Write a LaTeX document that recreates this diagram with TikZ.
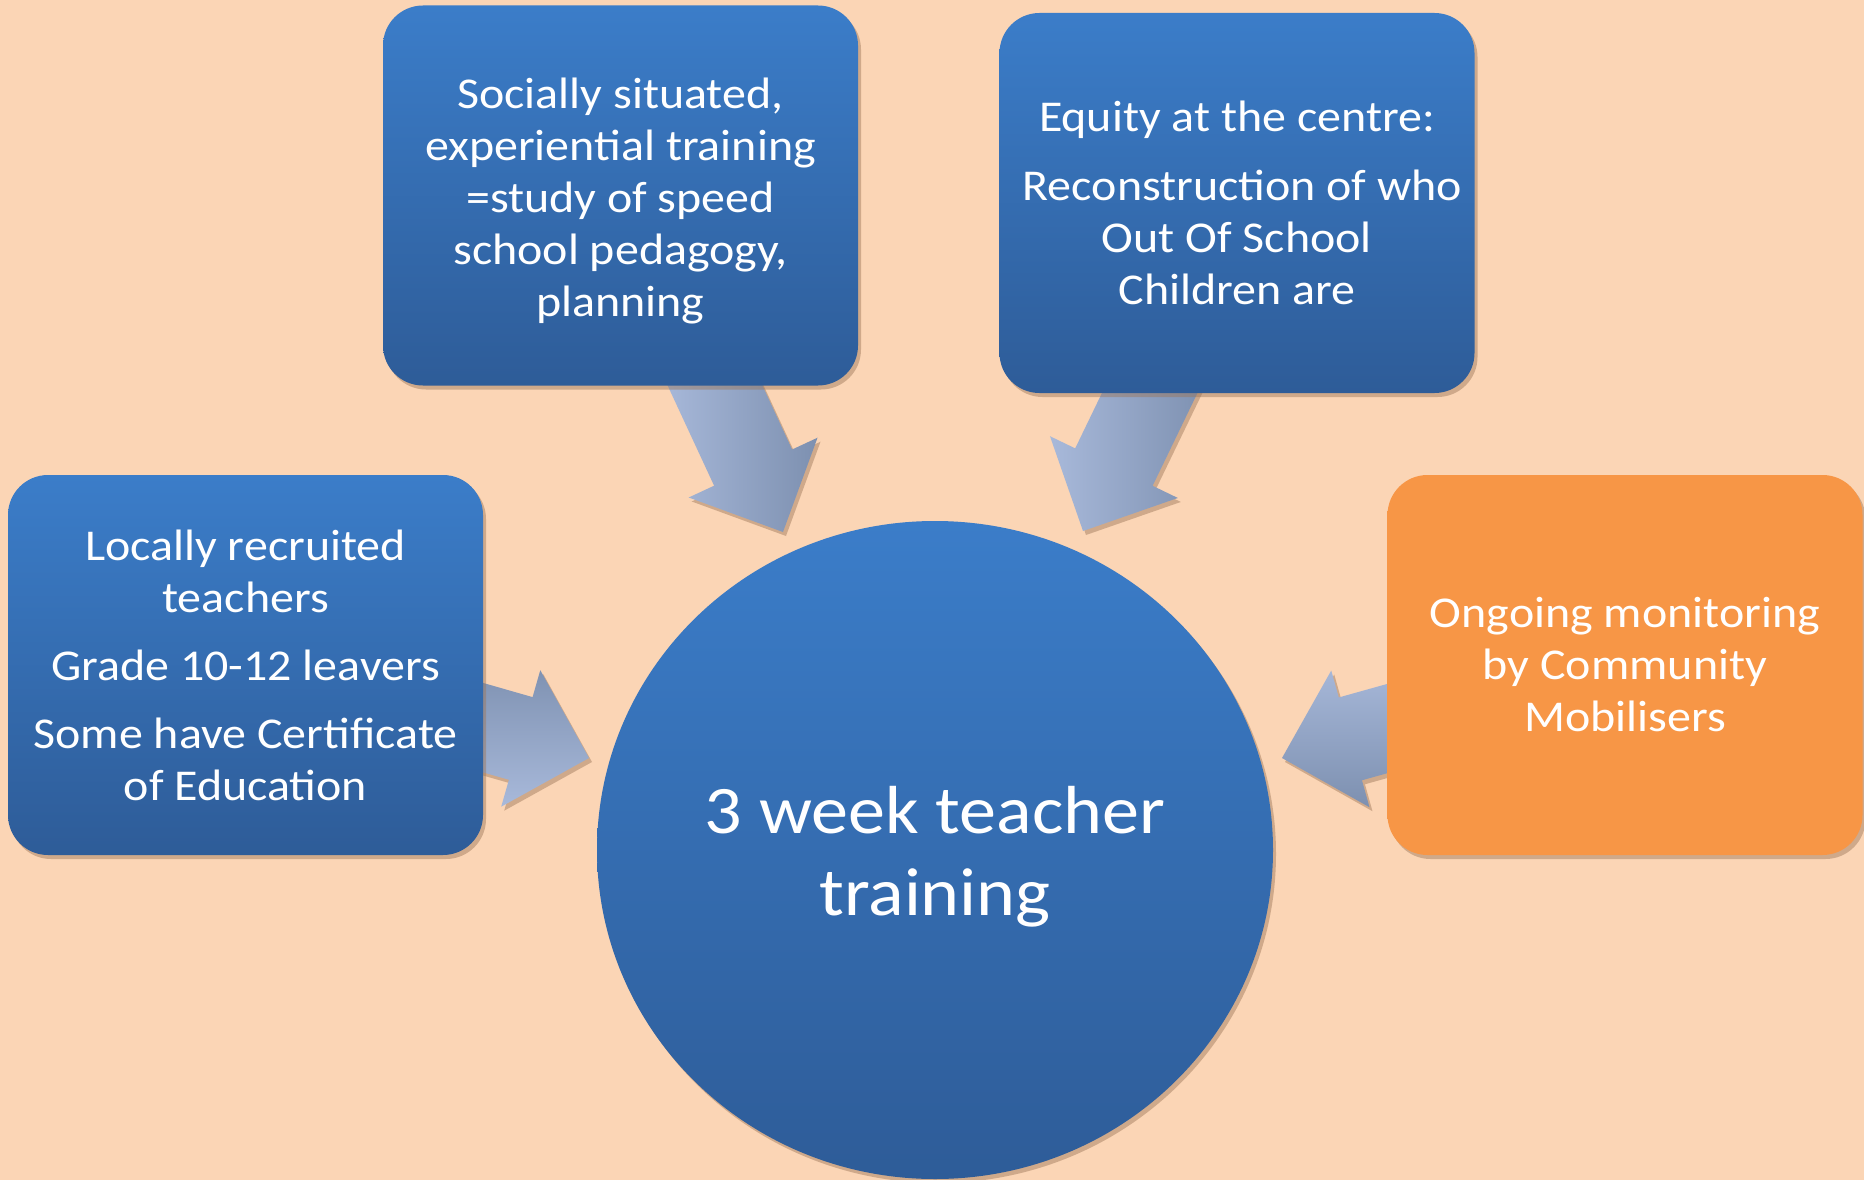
\documentclass[tikz,border=0pt]{standalone}
\usepackage{fontspec}
\setmainfont{Carlito}[FakeStretch=1.09]
\usetikzlibrary{shapes.geometric,shadows,calc}
\definecolor{bg}{HTML}{FBD5B5}
\definecolor{btop}{HTML}{3B7DC9}
\definecolor{bbot}{HTML}{2E5C98}
\definecolor{orng}{HTML}{F79646}
\definecolor{alight}{HTML}{A8B9DA}
\definecolor{adark}{HTML}{7D90B0}
\definecolor{shd}{HTML}{9A7457}
\tikzset{
  softshadow/.style={drop shadow={shadow xshift=3pt, shadow yshift=-4pt, fill=shd, opacity=0.45}},
  bluebox/.style={rectangle, rounded corners=40pt, minimum width=475pt, minimum height=380pt,
    inner sep=0pt, top color=btop, bottom color=bbot, draw=none, text=white, align=center,
    font=\fontsize{44}{52}\selectfont, softshadow},
  orangebox/.style={bluebox, top color=orng, bottom color=orng},
  hub/.style={ellipse, minimum width=676pt, minimum height=658pt, inner sep=0pt,
    top color=btop, bottom color=bbot, draw=none, softshadow},
  hubtext/.style={text=white, align=center, inner sep=0pt, font=\fontsize{68}{82}\selectfont},
  blockarrow/.style={draw=none, softshadow}
}
\newcommand\blockarr[3]{%
  \coordinate (#2-h) at ($(#2)!71pt!(#1)$);
  \path[blockarrow,#3] ($(#1)!43pt!90:(#2)$) -- ($(#2-h)!43pt!90:(#2)$) -- ($(#2-h)!71pt!90:(#2)$)
    -- (#2) -- ($(#2-h)!71pt!-90:(#2)$) -- ($(#2-h)!43pt!-90:(#2)$) -- ($(#1)!43pt!-90:(#2)$) -- cycle;
}
\begin{document}
\begin{tikzpicture}[x=1pt,y=-1pt]
\useasboundingbox (0,0) rectangle (1864,1180);
\fill[bg] (0,0) rectangle (1864,1180);

% arrow tails (hidden under boxes) and tips
\coordinate (t1) at (699,351);  \coordinate (p1) at (783,532);
\coordinate (t2) at (1170,351); \coordinate (p2) at (1083,531);
\coordinate (t3) at (397,703);  \coordinate (p3) at (589,758);
\coordinate (t4) at (1475,704); \coordinate (p4) at (1282,758);

\blockarr{t1}{p1}{left color=alight, right color=adark}
\blockarr{t2}{p2}{left color=alight, right color=adark}
\blockarr{t3}{p3}{top color=adark, bottom color=alight}
\blockarr{t4}{p4}{top color=alight, bottom color=adark}

\node[hub] (center) at (935,850) {};
\node[hubtext] (centertext) at ($(center)+(0,7)$) {3 week teacher\\training};

\node[bluebox] (left) at (245.5,665) {Locally recruited\\teachers\\[16pt]Grade 10-12 leavers\\[16pt]Some have Certificate\\of Education};
\node[bluebox] (topleft) at (620.5,195.5) {\rule{0pt}{42pt}Socially situated,\\experiential training\\=study of speed\\school pedagogy,\\planning};
\node[bluebox] (topright) at (1237,203) {Equity at the centre:\\[17pt]\hspace*{11pt}Reconstruction of who\\Out Of School\\Children are};
\node[orangebox] (right) at (1625,665) {Ongoing monitoring\\by Community\\Mobilisers};
\end{tikzpicture}
\end{document}
